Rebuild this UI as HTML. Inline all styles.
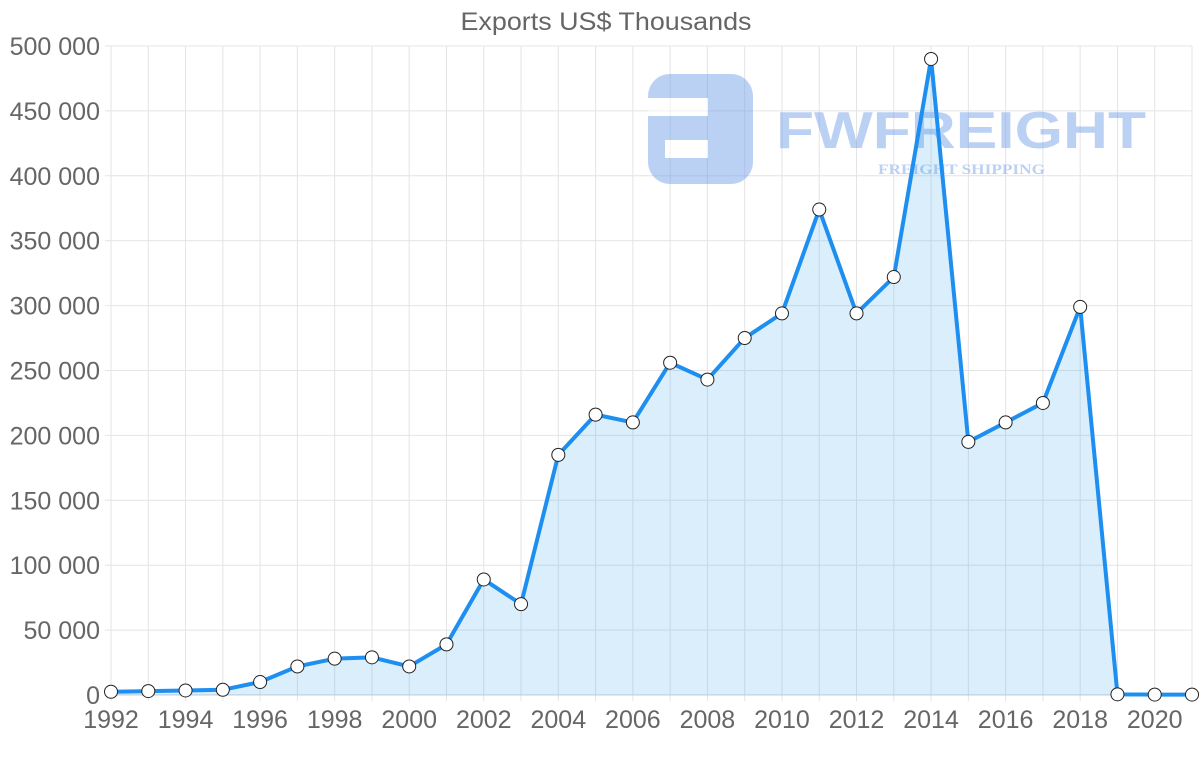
<!DOCTYPE html>
<html><head><meta charset="utf-8"><style>
body{margin:0;background:#fff;}
svg{display:block;font-family:"Liberation Sans",sans-serif;}
</style></head><body>
<svg id="chart" width="1200" height="763" viewBox="0 0 1200 763">
<text x="606" y="30" text-anchor="middle" font-size="25" fill="#666" textLength="291" lengthAdjust="spacingAndGlyphs">Exports US$ Thousands</text>
<g id="grid"></g>
<g id="wm" opacity="0.45">
<rect x="648" y="74" width="105" height="110" rx="22" fill="#6a9ae8"/>
<rect x="648" y="98" width="60" height="18" fill="#fff"/>
<rect x="665" y="140" width="43" height="18" fill="#fff"/>
<text x="776" y="148" font-size="52" font-weight="bold" fill="#6a9ae8" textLength="370" lengthAdjust="spacingAndGlyphs">FWFREIGHT</text>
<text x="878" y="174" font-size="15" font-weight="bold" font-family="Liberation Serif,serif" fill="#6a9ae8" textLength="167" lengthAdjust="spacingAndGlyphs">FREIGHT SHIPPING</text>
</g>
<g id="series"></g>
<g id="axes"></g>
</svg>
<script>
const years=[1992,1993,1994,1995,1996,1997,1998,1999,2000,2001,2002,2003,2004,2005,2006,2007,2008,2009,2010,2011,2012,2013,2014,2015,2016,2017,2018,2019,2020,2021];
const exportsVals=[2500,3000,3500,4000,10000,22000,28000,29000,22000,39000,89000,70000,185000,216000,210000,256000,243000,275000,294000,374000,294000,322000,490000,195000,210000,225000,299000,500,300,300];
const yTicks=[0,50000,100000,150000,200000,250000,300000,350000,400000,450000,500000];
const yTickLabels=["0","50 000","100 000","150 000","200 000","250 000","300 000","350 000","400 000","450 000","500 000"];
const NS="http://www.w3.org/2000/svg";
const x0=111,x1=1192,yb=695,yt=46;
const xs=y=>x0+(y-1992)*(x1-x0)/(2021-1992);
const ys=v=>yb-v*(yb-yt)/500000;
function mk(t,a,p){const e=document.createElementNS(NS,t);for(const k in a)e.setAttribute(k,a[k]);p.appendChild(e);return e;}
const grid=document.getElementById('grid'),axes=document.getElementById('axes'),ser=document.getElementById('series');
years.forEach(y=>{const l=mk('line',{x1:xs(y),x2:xs(y),y1:yt,y2:yb+6,stroke:'#e4e4e4'},grid);


if((y-1992)%2===0){const t=mk('text',{x:xs(y),y:728,'text-anchor':'middle','font-size':25,fill:'#666'},axes);t.textContent=y;

}});
yTicks.forEach((v,i)=>{const l=mk('line',{x1:x0-6,x2:x1,y1:ys(v),y2:ys(v),stroke:v===0?'#ccc':'#e4e4e4'},grid);


const t=mk('text',{x:100,y:ys(v)+9,'text-anchor':'end','font-size':25,fill:'#666'},axes);t.textContent=yTickLabels[i];

});
const pts=years.map((y,i)=>xs(y)+','+ys(exportsVals[i]));
const area=mk('path',{d:'M'+xs(years[0])+','+yb+' L'+pts.join(' L')+' L'+xs(years[years.length-1])+','+yb+' Z',fill:'rgba(54,162,235,0.18)'},ser);


const line=mk('polyline',{points:pts.join(' '),fill:'none',stroke:'#1e8ff0','stroke-width':4,'stroke-linejoin':'round'},ser);


years.forEach((y,i)=>{const c=mk('circle',{cx:xs(y),cy:ys(exportsVals[i]),r:6.5,fill:'#fff',stroke:'#222','stroke-width':1},ser);

});
</script>
</body></html>
